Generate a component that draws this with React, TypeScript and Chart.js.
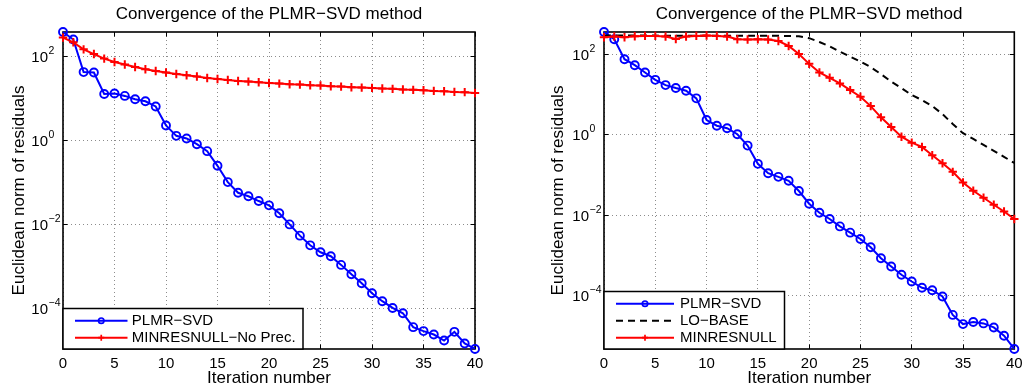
import React, { useEffect, useRef } from "react";
import { Chart, registerables } from "chart.js";

Chart.register(...registerables);

const FONT = '"Liberation Sans", Arial, Helvetica, sans-serif';

// ---------- data ----------
const iterations = [
  0, 1, 2, 3, 4, 5, 6, 7, 8, 9, 10, 11, 12, 13, 14, 15, 16, 17, 18, 19, 20,
  21, 22, 23, 24, 25, 26, 27, 28, 29, 30, 31, 32, 33, 34, 35, 36, 37, 38, 39, 40,
];

const xTickValues = [0, 5, 10, 15, 20, 25, 30, 35, 40];
const yTickValues = [1e-4, 1e-2, 1, 1e2];

const chartTitle = "Convergence of the PLMR\u2212SVD method";
const xAxisTitle = "Iteration number";
const yAxisTitle = "Euclidean norm of residuals";

// left panel
const leftYMin = 1.087e-5;
const leftYMax = 378;
const leftPlmrSvd = [
  378, 250, 42, 41, 12.7, 13, 11.4, 9.5, 8.5, 6.4, 2.26, 1.28, 1.11, 0.81, 0.553,
  0.248, 0.1016, 0.0566, 0.0468, 0.036, 0.0284, 0.0184, 0.01, 0.0054, 0.00318,
  0.00217, 0.00175, 0.00109, 6.5e-4, 4.0e-4, 2.3e-4, 1.49e-4, 1.03e-4, 7.7e-5,
  3.6e-5, 2.9e-5, 2.4e-5, 1.73e-5, 2.78e-5, 1.47e-5, 1.09e-5,
];
const leftMinresNoPrec = [
  278, 215, 146, 113, 88, 73, 63.5, 55.7, 49, 44.8, 41, 38, 35.4, 33, 30.5, 28.9,
  27.4, 25.9, 25, 24.1, 23.2, 22.4, 21.6, 21.2, 20.5, 20.1, 19.4, 19, 18.4, 18,
  17.7, 17.1, 16.8, 16.2, 15.9, 15.6, 15, 14.7, 14.2, 14, 13.4,
];

// right panel
const rightYMin = 4.68e-6;
const rightYMax = 363;
const rightPlmrSvd = [
  363, 240, 76.4, 54.2, 35.7, 23.4, 17.3, 14.6, 12.5, 8.1, 2.34, 1.69, 1.46, 1.035,
  0.54, 0.19, 0.111, 0.09, 0.0718, 0.04, 0.0193, 0.0115, 0.00805, 0.00527,
  0.00368, 0.00256, 0.00159, 8.5e-4, 5.3e-4, 3.3e-4, 2.24e-4, 1.56e-4, 1.36e-4,
  9.5e-5, 3.3e-5, 1.95e-5, 2.19e-5, 2.03e-5, 1.61e-5, 1.0e-5, 4.7e-6,
];
const rightLoBase = [
  296, 296, 295, 295, 295, 295, 294, 294, 294, 294, 293, 293, 293, 293, 292, 292,
  292, 291, 290, 285, 255, 205, 160, 118, 88, 67, 48.4, 32.5, 21.1, 14.6, 9.77,
  7.35, 5.21, 3.3, 1.86, 1.1, 0.79, 0.56, 0.4, 0.283, 0.2,
];
const rightMinresnull = [
  268, 280, 268, 285, 290, 290, 280, 244, 280, 290, 296, 290, 280, 240, 236, 240,
  236, 217, 163, 103, 58.5, 35.7, 26.3, 19.1, 13, 8.9, 5.2, 2.73, 1.57, 0.9, 0.64,
  0.5, 0.312, 0.197, 0.12, 0.065, 0.0405, 0.0272, 0.0182, 0.0124, 0.00805,
];

const BLUE = "#0000ff";
const RED = "#ff0000";
const BLACK = "#000000";

const toXY = (vals: number[]) => iterations.map((x, i) => ({ x, y: vals[i] }));

const blueStyle = {
  borderColor: BLUE,
  backgroundColor: BLUE,
  borderWidth: 2,
  pointStyle: "circle",
  pointRadius: 4,
  pointBorderWidth: 1.9,
  pointBackgroundColor: "rgba(0,0,0,0)",
  pointBorderColor: BLUE,
  tension: 0,
  clip: false as any,
};
const redStyle = {
  borderColor: RED,
  backgroundColor: RED,
  borderWidth: 2,
  pointStyle: "cross",
  pointRadius: 4.2,
  pointBorderWidth: 2,
  pointBorderColor: RED,
  tension: 0,
  clip: false as any,
};
const dashStyle = {
  borderColor: BLACK,
  backgroundColor: BLACK,
  borderWidth: 2,
  borderDash: [7, 5],
  pointRadius: 0,
  tension: 0,
  clip: false as any,
};

// ---------- matlab look plugin ----------
const matlabPlugin: any = {
  id: "matlabAxes",
  beforeDatasetsDraw(chart: any) {
    const { ctx, chartArea: a, scales } = chart;
    ctx.save();
    ctx.strokeStyle = "#000";
    ctx.lineWidth = 1;
    ctx.beginPath();
    const tl = 4.5;
    for (const t of scales.x.ticks) {
      const px = Math.round(scales.x.getPixelForValue(t.value) - 0.5) + 0.5;
      ctx.moveTo(px, a.bottom);
      ctx.lineTo(px, a.bottom - tl);
      ctx.moveTo(px, a.top);
      ctx.lineTo(px, a.top + tl);
    }
    for (const t of scales.y.ticks) {
      const py = Math.round(scales.y.getPixelForValue(t.value) - 0.5) + 0.5;
      ctx.moveTo(a.left, py);
      ctx.lineTo(a.left + tl, py);
      ctx.moveTo(a.right, py);
      ctx.lineTo(a.right - tl, py);
    }
    ctx.stroke();
    ctx.lineWidth = 1.6;
    ctx.strokeRect(a.left, a.top, a.right - a.left, a.bottom - a.top);
    ctx.restore();
  },
  afterDraw(chart: any, _args: any, opts: any) {
    const { ctx, chartArea: a, scales } = chart;
    ctx.save();
    // y tick labels 10^n
    ctx.fillStyle = "#000";
    for (const t of scales.y.ticks) {
      const py = scales.y.getPixelForValue(t.value);
      const e = Math.round(Math.log10(t.value));
      const expText = e < 0 ? "\u2212" + String(-e) : String(e);
      const baseRight = a.left - 15;
      ctx.font = `15px ${FONT}`;
      ctx.textAlign = "right";
      ctx.textBaseline = "alphabetic";
      ctx.fillText("10", baseRight, py + 5.3);
      ctx.font = `10.5px ${FONT}`;
      ctx.textAlign = "left";
      ctx.fillText(expText, baseRight + 0.5, py - 2.5);
    }

    // legend
    const ds = chart.data.datasets;
    const rows = ds.length;
    const rowH = 17;
    const h = rows * rowH + 6.5;
    const w = opts.legendWidth;
    const bx = a.left;
    const by = a.bottom - h;
    ctx.fillStyle = "#fff";
    ctx.fillRect(bx, by, w, h);
    ctx.strokeStyle = "#000";
    ctx.lineWidth = 1.5;
    ctx.strokeRect(bx, by, w, h);
    for (let i = 0; i < rows; i++) {
      const d = ds[i];
      const cy = a.bottom - 11.3 - rowH * (rows - 1 - i);
      const x0 = bx + 12;
      const x1 = bx + opts.sampleEnd;
      const xm = (x0 + x1) / 2;
      ctx.save();
      ctx.strokeStyle = d.borderColor;
      ctx.lineWidth = d.borderWidth;
      ctx.setLineDash(d.borderDash || []);
      ctx.beginPath();
      ctx.moveTo(x0, cy);
      ctx.lineTo(x1, cy);
      ctx.stroke();
      ctx.setLineDash([]);
      ctx.lineWidth = 1.7;
      if (d.pointRadius > 0 && d.pointStyle === "circle") {
        ctx.beginPath();
        ctx.arc(xm, cy, 2.7, 0, Math.PI * 2);
        ctx.stroke();
      } else if (d.pointRadius > 0 && d.pointStyle === "cross") {
        ctx.beginPath();
        ctx.moveTo(xm, cy - 3);
        ctx.lineTo(xm, cy + 3);
        ctx.moveTo(xm - 3, cy);
        ctx.lineTo(xm + 3, cy);
        ctx.stroke();
      }
      ctx.restore();
      ctx.fillStyle = "#000";
      ctx.font = `15px ${FONT}`;
      ctx.textAlign = "left";
      ctx.textBaseline = "middle";
      ctx.fillText(d.label, bx + opts.textX, cy);
    }
    ctx.restore();
  },
};

type PanelParams = {
  datasets: any[];
  yMin: number;
  yMax: number;
  yAxisWidth: number;
  padRight: number;
  yTitlePad: number;
  legendWidth: number;
  sampleEnd: number;
  textX: number;
};

function makeConfig(p: PanelParams): any {
  const gridOpts = { color: "rgba(0,0,0,0.45)", lineWidth: 1, drawTicks: false };
  return {
    type: "line",
    data: { datasets: p.datasets },
    plugins: [matlabPlugin],
    options: {
      responsive: false,
      animation: false,
      events: [],
      layout: { padding: { left: 0, right: p.padRight, top: 0, bottom: 0 } },
      plugins: {
        legend: { display: false },
        tooltip: { enabled: false },
        title: {
          display: true,
          text: chartTitle,
          fullSize: false,
          color: "#000",
          font: { size: 17, weight: "normal", family: FONT },
          padding: { top: 3.9, bottom: 7.7 },
        },
        matlabAxes: {
          legendWidth: p.legendWidth,
          sampleEnd: p.sampleEnd,
          textX: p.textX,
        },
      },
      scales: {
        x: {
          type: "linear",
          min: 0,
          max: 40,
          afterBuildTicks: (s: any) => {
            s.ticks = xTickValues.map((v) => ({ value: v }));
          },
          afterFit: (s: any) => {
            s.height = 41;
          },
          ticks: {
            color: "#000",
            font: { size: 15, family: FONT },
            padding: 6,
            maxRotation: 0,
            autoSkip: false,
          },
          grid: gridOpts,
          border: { display: false, dash: [1, 3] },
          title: {
            display: true,
            text: xAxisTitle,
            color: "#000",
            font: { size: 17, family: FONT },
            padding: { top: 0, bottom: 1 },
          },
        },
        y: {
          type: "logarithmic",
          min: p.yMin,
          max: p.yMax,
          afterBuildTicks: (s: any) => {
            s.ticks = yTickValues.map((v) => ({ value: v }));
          },
          afterFit: (s: any) => {
            s.width = p.yAxisWidth;
          },
          ticks: { display: false },
          grid: gridOpts,
          border: { display: false, dash: [1, 3] },
          title: {
            display: true,
            text: yAxisTitle,
            color: "#000",
            font: { size: 17, family: FONT },
            padding: { top: p.yTitlePad, bottom: 0 },
          },
        },
      },
    },
  };
}

export default function App() {
  const leftRef = useRef<HTMLCanvasElement>(null);
  const rightRef = useRef<HTMLCanvasElement>(null);

  useEffect(() => {
    Chart.defaults.font.family = FONT;
    Chart.defaults.color = "#000";

    const left = new Chart(
      leftRef.current as HTMLCanvasElement,
      makeConfig({
        datasets: [
          { label: "PLMR\u2212SVD", data: toXY(leftPlmrSvd), order: 2, ...blueStyle },
          {
            label: "MINRESNULL\u2212No Prec.",
            data: toXY(leftMinresNoPrec),
            order: 1,
            ...redStyle,
          },
        ],
        yMin: leftYMin,
        yMax: leftYMax,
        yAxisWidth: 63,
        padRight: 40,
        yTitlePad: 9.3,
        legendWidth: 240,
        sampleEnd: 64.5,
        textX: 68.8,
      })
    );

    const right = new Chart(
      rightRef.current as HTMLCanvasElement,
      makeConfig({
        datasets: [
          { label: "PLMR\u2212SVD", data: toXY(rightPlmrSvd), order: 3, ...blueStyle },
          { label: "LO\u2212BASE", data: toXY(rightLoBase), order: 2, ...dashStyle },
          { label: "MINRESNULL", data: toXY(rightMinresnull), order: 1, ...redStyle },
        ],
        yMin: rightYMin,
        yMax: rightYMax,
        yAxisWidth: 89,
        padRight: 15.7,
        yTitlePad: 32.9,
        legendWidth: 180.5,
        sampleEnd: 70,
        textX: 76,
      })
    );

    return () => {
      left.destroy();
      right.destroy();
    };
  }, []);

  return (
    <div
      style={{
        position: "absolute",
        left: 0,
        top: 0,
        width: 1030,
        height: 390,
        background: "#fff",
      }}
    >
      <canvas
        ref={leftRef}
        width={515}
        height={390}
        style={{ position: "absolute", left: 0, top: 0, width: 515, height: 390 }}
      />
      <canvas
        ref={rightRef}
        width={515}
        height={390}
        style={{ position: "absolute", left: 515, top: 0, width: 515, height: 390 }}
      />
    </div>
  );
}
